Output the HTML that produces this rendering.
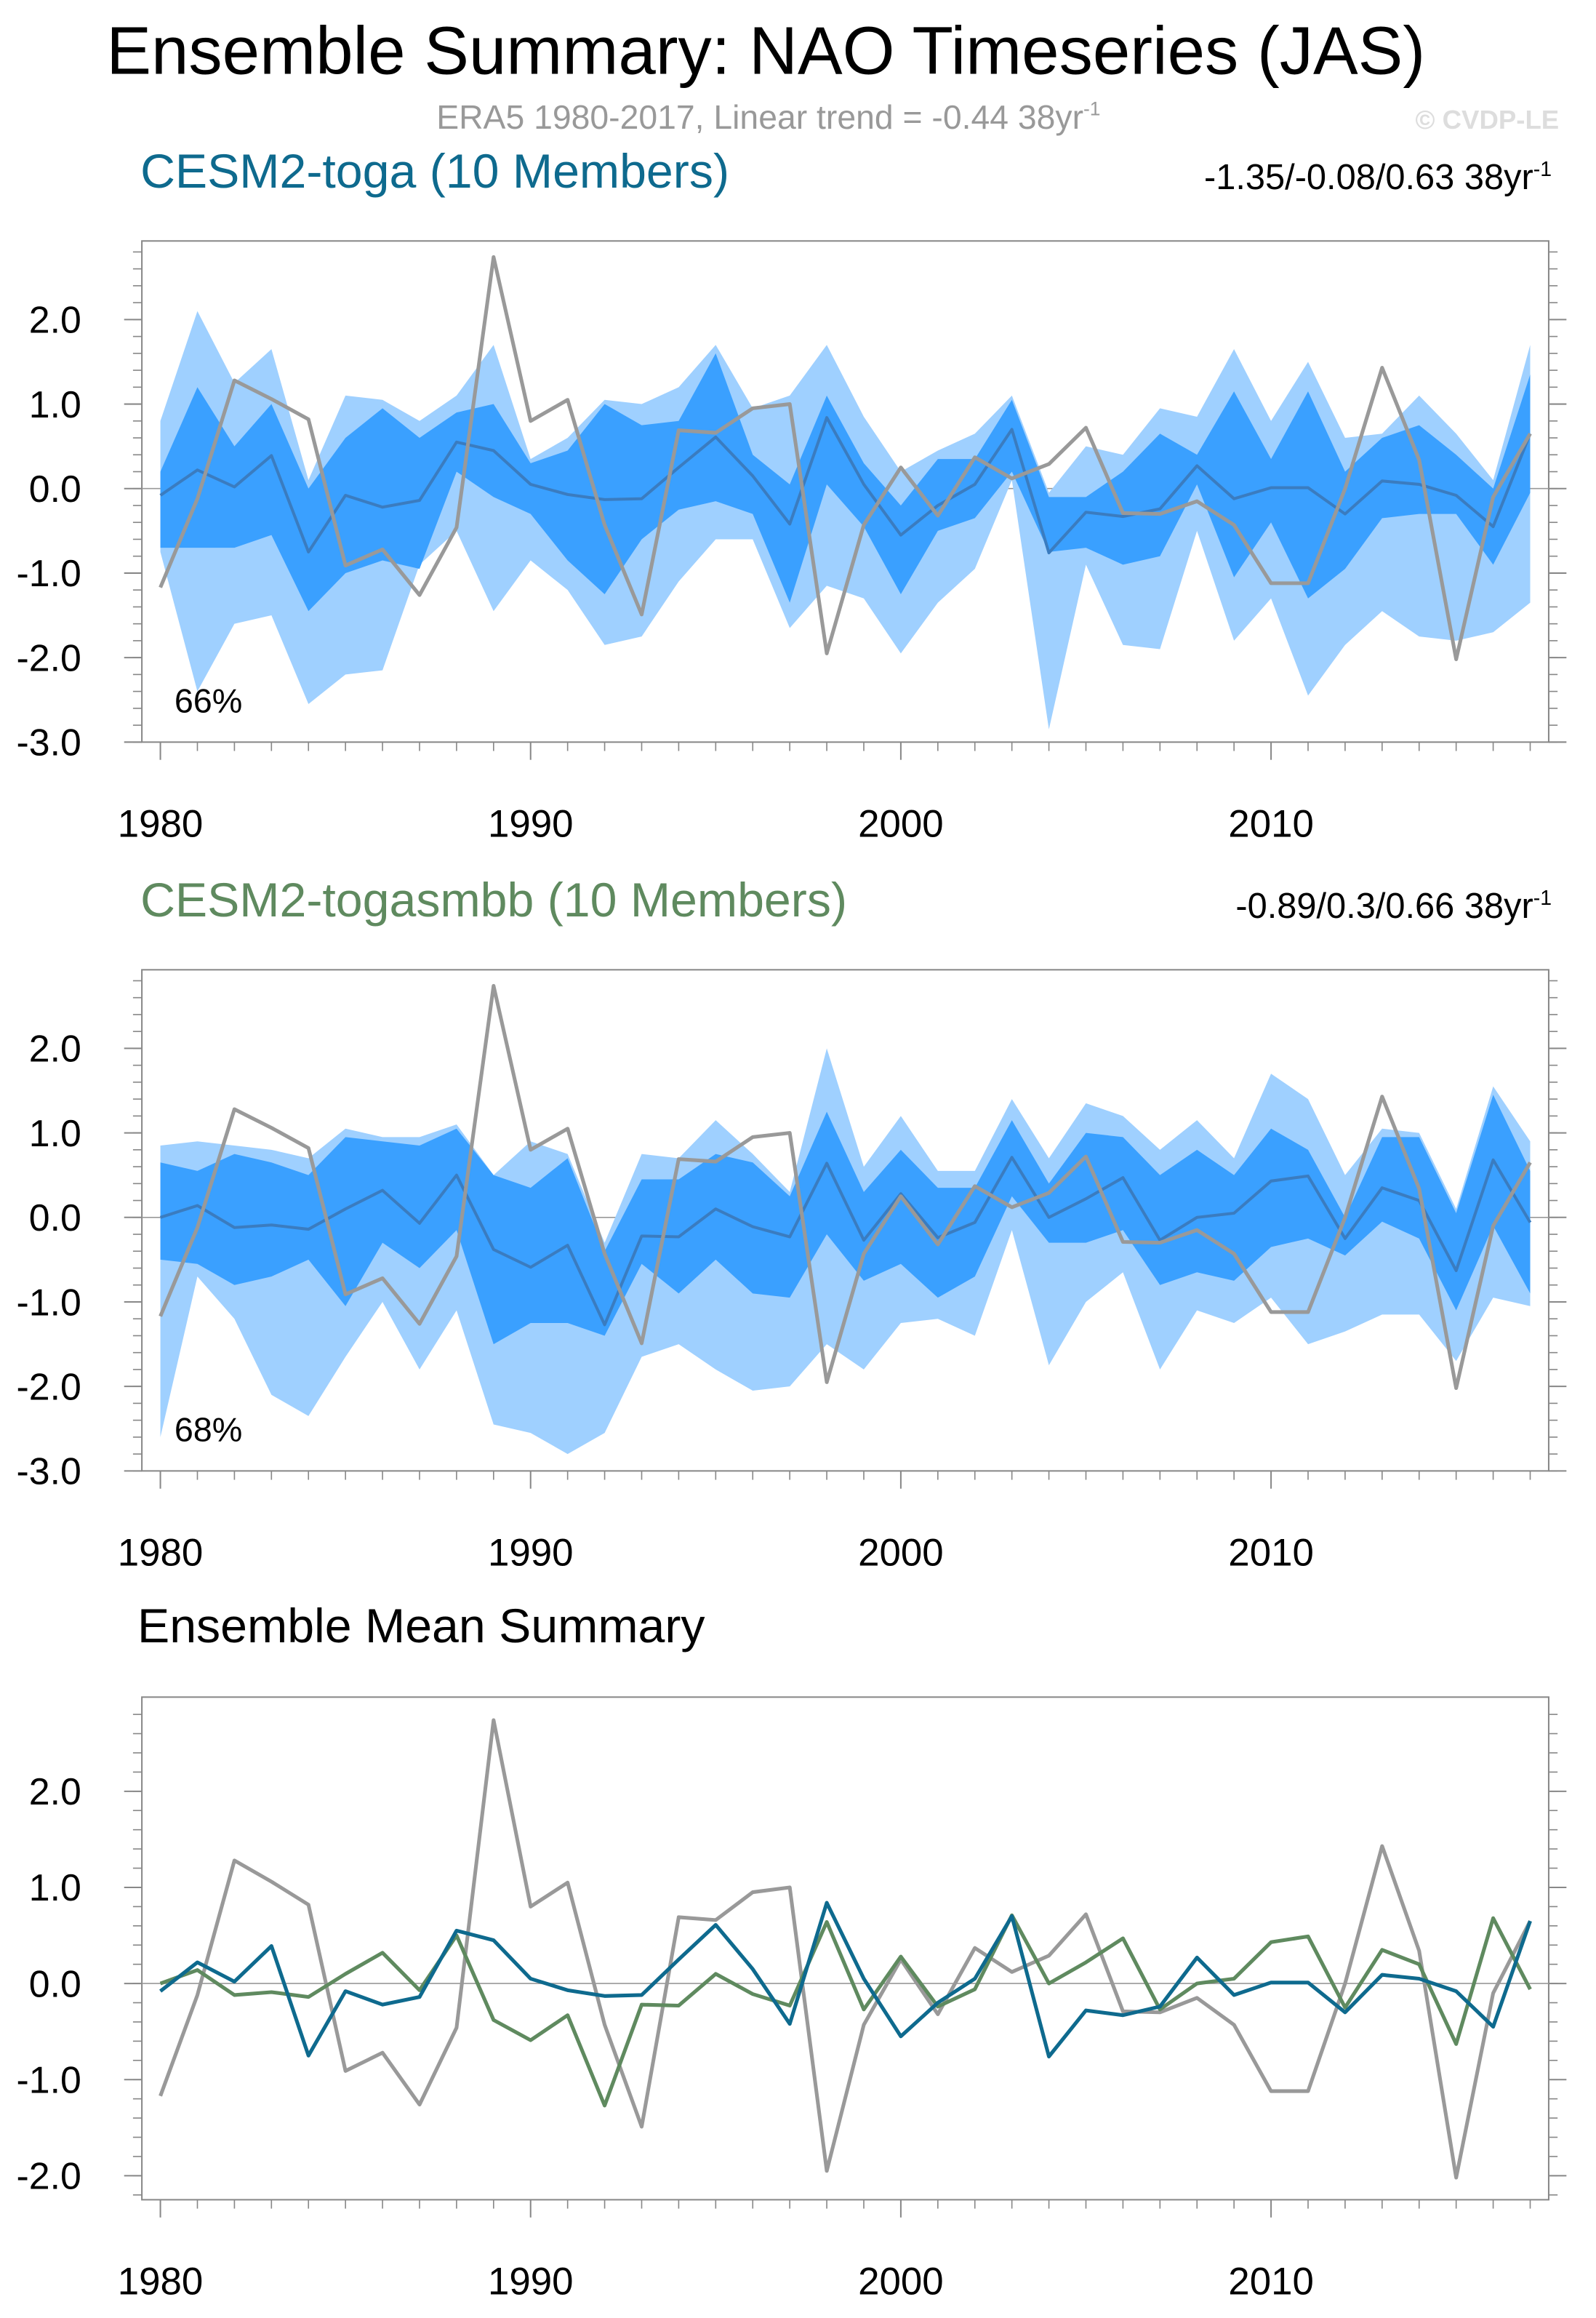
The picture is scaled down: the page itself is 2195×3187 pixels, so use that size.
<!DOCTYPE html>
<html><head><meta charset="utf-8"><style>
html,body{margin:0;padding:0;background:#fff;}
svg{display:block;}
text{font-family:"Liberation Sans",sans-serif;}
</style></head><body>
<svg id="chart" width="2195" height="3187" viewBox="0 0 1080 1568" preserveAspectRatio="none" xmlns="http://www.w3.org/2000/svg">
<text x="72" y="50" font-size="45.5">Ensemble Summary: NAO Timeseries (JAS)</text>
<text x="520" y="87" font-size="22.8" fill="#999" text-anchor="middle">ERA5 1980-2017, Linear trend = -0.44 38yr<tspan dy="-9" font-size="13">-1</tspan></text>
<text x="1055" y="87" font-size="18" fill="#ddd" font-weight="bold" text-anchor="end">© CVDP-LE</text>
<g id="plots"></g>
</svg>
<script>
const years=[];for(let y=1980;y<=2017;y++)years.push(y);
const obs=[-1.17,-0.12,1.28,1.06,0.82,-0.91,-0.72,-1.26,-0.46,2.74,0.80,1.05,-0.43,-1.49,0.69,0.66,0.95,1.00,-1.95,-0.43,0.25,-0.32,0.37,0.12,0.29,0.72,-0.29,-0.30,-0.15,-0.43,-1.12,-1.12,0.0,1.43,0.34,-2.02,-0.10,0.65];
const togaMean=[-0.08,0.22,0.02,0.39,-0.75,-0.08,-0.22,-0.14,0.55,0.45,0.05,-0.07,-0.13,-0.12,0.25,0.61,0.15,-0.42,0.84,0.05,-0.55,-0.20,0.05,0.70,-0.76,-0.28,-0.33,-0.24,0.27,-0.12,0.01,0.01,-0.30,0.09,0.05,-0.08,-0.45,0.65];
const togaMax=[0.8,2.1,1.25,1.65,0.1,1.1,1.05,0.8,1.1,1.7,0.35,0.6,1.05,1.0,1.2,1.7,0.95,1.1,1.7,0.85,0.2,0.45,0.65,1.1,-0.05,0.5,0.4,0.95,0.85,1.65,0.8,1.5,0.6,0.65,1.1,0.65,0.1,1.7];
const togaMin=[-0.75,-2.4,-1.6,-1.5,-2.55,-2.2,-2.15,-0.9,-0.5,-1.45,-0.85,-1.2,-1.85,-1.75,-1.1,-0.6,-0.6,-1.65,-1.15,-1.3,-1.95,-1.35,-0.95,0.1,-2.85,-0.9,-1.85,-1.9,-0.5,-1.8,-1.3,-2.45,-1.85,-1.45,-1.75,-1.8,-1.7,-1.35];
const togaHi=[0.2,1.2,0.5,1.0,0.0,0.6,0.95,0.6,0.9,1.0,0.3,0.45,1.0,0.75,0.8,1.6,0.4,0.05,1.1,0.3,-0.2,0.35,0.35,1.05,-0.1,-0.1,0.2,0.65,0.4,1.15,0.35,1.15,0.2,0.6,0.75,0.4,0.0,1.35];
const togaLo=[-0.7,-0.7,-0.7,-0.55,-1.45,-1.0,-0.85,-0.95,0.2,-0.1,-0.3,-0.85,-1.25,-0.6,-0.25,-0.15,-0.3,-1.35,0.05,-0.45,-1.25,-0.5,-0.35,0.2,-0.75,-0.7,-0.9,-0.8,0.05,-1.05,-0.4,-1.3,-0.95,-0.35,-0.3,-0.3,-0.9,-0.05];
const smbbMean=[0.0,0.14,-0.12,-0.09,-0.14,0.10,0.32,-0.07,0.50,-0.38,-0.59,-0.33,-1.27,-0.22,-0.23,0.10,-0.11,-0.23,0.64,-0.27,0.28,-0.24,-0.06,0.71,0.00,0.22,0.47,-0.27,0.00,0.05,0.43,0.49,-0.25,0.35,0.20,-0.63,0.68,-0.06];
const smbbMax=[0.85,0.9,0.85,0.8,0.7,1.05,0.95,0.95,1.1,0.5,0.9,0.75,-0.3,0.75,0.7,1.15,0.75,0.3,2.0,0.6,1.2,0.55,0.55,1.4,0.7,1.35,1.2,0.8,1.15,0.7,1.7,1.4,0.5,1.05,1.0,0.1,1.55,0.9];
const smbbMin=[-2.6,-0.7,-1.2,-2.1,-2.35,-1.65,-1.0,-1.8,-1.1,-2.45,-2.55,-2.8,-2.55,-1.65,-1.5,-1.8,-2.05,-2.0,-1.5,-1.8,-1.25,-1.2,-1.4,-0.15,-1.75,-1.0,-0.65,-1.8,-1.1,-1.25,-0.95,-1.5,-1.35,-1.15,-1.15,-1.7,-0.95,-1.05];
const smbbHi=[0.65,0.55,0.75,0.65,0.5,0.95,0.9,0.85,1.05,0.5,0.35,0.7,-0.4,0.45,0.45,0.75,0.65,0.25,1.25,0.3,0.8,0.35,0.35,1.15,0.4,1.0,0.95,0.5,0.8,0.5,1.05,0.8,0.0,0.95,0.95,0.05,1.45,0.55];
const smbbLo=[-0.5,-0.55,-0.8,-0.7,-0.5,-1.05,-0.3,-0.6,-0.15,-1.5,-1.25,-1.25,-1.4,-0.55,-0.9,-0.5,-0.9,-0.95,-0.2,-0.75,-0.55,-0.95,-0.7,0.25,-0.3,-0.3,-0.15,-0.8,-0.65,-0.75,-0.35,-0.25,-0.45,-0.05,-0.25,-1.1,-0.1,-0.9];
const yTicks12=[2.0,1.0,0.0,-1.0,-2.0,-3.0];
const yTicks3=[2.0,1.0,0.0,-1.0,-2.0];
const xTicks=[1980,1990,2000,2010];

const NS='http://www.w3.org/2000/svg';
const root=document.getElementById('plots');
function mk(tag,attrs,parent){const e=document.createElementNS(NS,tag);for(const k in attrs)e.setAttribute(k,attrs[k]);(parent||root).appendChild(e);return e;}
const X0=96,X1=1048,xs=y=>X0+(y-1979.5)/(2017.5-1979.5)*(X1-X0);

function panel(name,top,bot,ymax,ymin,ticks,minorLo,minorHi){
  const g=mk('g',{});
  
  
  const ys=v=>top+(ymax-v)/(ymax-ymin)*(bot-top);
  mk('rect',{x:X0,y:top,width:X1-X0,height:bot-top,fill:'none',stroke:'#888','stroke-width':1},g);
  mk('line',{x1:X0,x2:X1,y1:ys(0),y2:ys(0),stroke:'#999','stroke-width':0.8},g);
  for(let v=minorLo;v<=minorHi+1e-6;v+=0.2){const y=ys(v);if(y<top-0.5||y>bot+0.5)continue;
    mk('line',{x1:X0-6,x2:X0,y1:y,y2:y,stroke:'#888','stroke-width':0.8},g);
    mk('line',{x1:X1,x2:X1+6,y1:y,y2:y,stroke:'#888','stroke-width':0.8},g);}
  ticks.forEach(t=>{const y=ys(t);
    mk('line',{x1:X0-12,x2:X0,y1:y,y2:y,stroke:'#888','stroke-width':1},g);
    mk('line',{x1:X1,x2:X1+12,y1:y,y2:y,stroke:'#888','stroke-width':1},g);
    const tx=mk('text',{x:55,y:y+9,'font-size':25.5,'text-anchor':'end'},g);
    tx.textContent=t.toFixed(1);
  });
  years.forEach(yr=>{const x=xs(yr);const big=yr%10===0;
    mk('line',{x1:x,x2:x,y1:bot,y2:bot+(big?12:6),stroke:'#888','stroke-width':big?1:0.8},g);});
  xTicks.forEach(yr=>{const t=mk('text',{x:xs(yr),y:bot+64,'font-size':26,'text-anchor':'middle'},g);t.textContent=yr;});
  return {g,ys};
}
function band(p,hi,lo,color,name){
  let d='M'+years.map((y,i)=>xs(y)+','+p.ys(hi[i])).join('L');
  d+='L'+years.slice().reverse().map((y,j)=>{const i=years.length-1-j;return xs(y)+','+p.ys(lo[i]);}).join('L')+'Z';
  const e=mk('path',{d,fill:color,stroke:'none'},p.g);
  
  
}
function line(p,vals,color,w,name){
  const e=mk('polyline',{points:years.map((y,i)=>xs(y)+','+p.ys(vals[i])).join(' '),fill:'none',stroke:color,'stroke-width':w,'stroke-linejoin':'round'},p.g);
  
  
}
function label(x,y,txt,size,color,anchor,name,sup){
  const t=mk('text',{x,y,'font-size':size,fill:color,'text-anchor':anchor||'start'});
  
  
  t.textContent=txt;
  if(sup){const s=mk('tspan',{dy:-9,'font-size':14},t);s.textContent=sup;}
}
const p1=panel('toga-panel',163,502,2.93,-3.0,yTicks12,-3.0,2.8);
band(p1,togaMax,togaMin,'#9fd0ff','toga-range-band');
band(p1,togaHi,togaLo,'#3aa0ff','toga-inner-band');
line(p1,togaMean,'#3a7cc0',2,'toga-ensemble-mean');
line(p1,obs,'#999',2.5,'toga-obs-line');
label(95,127,'CESM2-toga (10 Members)',32.6,'#0e6a8e','start','toga-title');
label(1050,128,'-1.35/-0.08/0.63 38yr',24,'#000','end','toga-trend','-1');
label(118,482,'66%',23,'#000','start','toga-percent');
const p2=panel('togasmbb-panel',656,995,2.93,-3.0,yTicks12,-3.0,2.8);
band(p2,smbbMax,smbbMin,'#9fd0ff','togasmbb-range-band');
band(p2,smbbHi,smbbLo,'#3aa0ff','togasmbb-inner-band');
line(p2,smbbMean,'#3a7cc0',2,'togasmbb-ensemble-mean');
line(p2,obs,'#999',2.5,'togasmbb-obs-line');
label(95,620,'CESM2-togasmbb (10 Members)',32.6,'#5f8a5f','start','togasmbb-title');
label(1050,621,'-0.89/0.3/0.66 38yr',24,'#000','end','togasmbb-trend','-1');
label(118,975,'68%',23,'#000','start','togasmbb-percent');
const p3=panel('ensemble-mean-panel',1148,1488,2.98,-2.25,yTicks3,-2.2,2.8);
line(p3,obs,'#999',2.5,'summary-obs-line');
line(p3,smbbMean,'#5f8a5f',2.5,'summary-togasmbb-line');
line(p3,togaMean,'#0e6a8e',2.5,'summary-toga-line');
label(93,1111,'Ensemble Mean Summary',32.6,'#000','start','summary-title');
</script>
</body></html>
